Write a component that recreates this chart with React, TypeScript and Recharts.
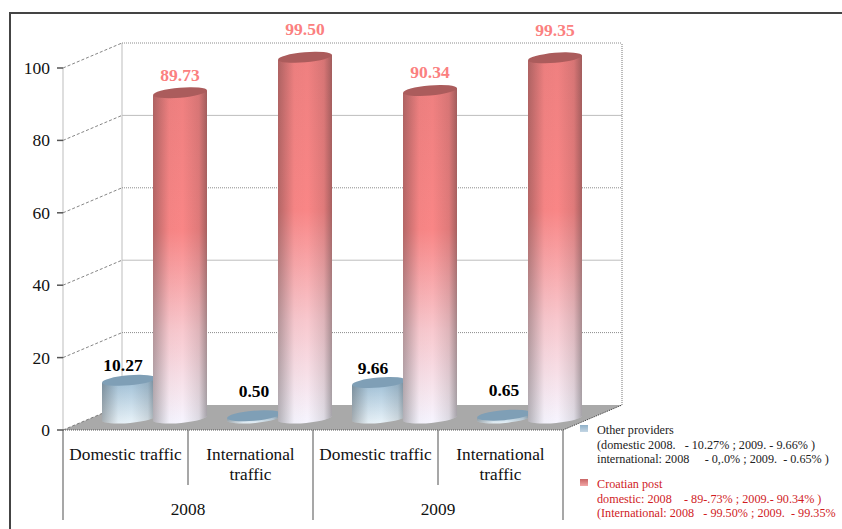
import { BarChart, Bar, XAxis, YAxis, Legend, LabelList } from 'recharts';

const categories = ['Domestic traffic', 'International traffic', 'Domestic traffic', 'International traffic'];
const years = ['2008', '2008', '2009', '2009'];
const otherProviders = [10.27, 0.5, 9.66, 0.65];
const croatianPost = [89.73, 99.5, 90.34, 99.35];
const yTicks = [0, 20, 40, 60, 80, 100];

const otherLegend = [
  'Other providers',
  '(domestic 2008.   - 10.27% ; 2009. - 9.66% )',
  'international: 2008     - 0,.0% ; 2009.  - 0.65% )',
];
const postLegend = [
  'Croatian post',
  'domestic: 2008    - 89-.73% ; 2009.- 90.34% )',
  '(International: 2008   - 99.50% ; 2009.  - 99.35%',
];

const data = categories.map((category, i) => ({
  key: i,
  category,
  year: years[i],
  other: otherProviders[i],
  post: croatianPost[i],
}));

const FONT = '"Liberation Serif", serif';
// how far the back wall sits behind the front of the plot
const DEPTH_X = 59;
const DEPTH_Y = 25;
// bars stand in the middle of the floor
const BAR_DX = 29;
const BAR_DY = 12.5;
const PLOT_W = 500;
const PLOT_H = 362;

function Cylinder(props: any) {
  const { x, y, width, height, body, top } = props;
  const left = x + BAR_DX;
  const right = left + width;
  const yt = y - BAR_DY;
  const yb = y + height - 12;
  const cx = left + width / 2;
  const tilt = 2.5;
  const rx = width / 2;
  const ry = 5;
  const side = `M${left},${yt + tilt} L${left},${yb + tilt} A${rx},${ry} -5 0 0 ${right},${yb - tilt} L${right},${yt - tilt} Z`;
  return (
    <g>
      <path d={side} fill={`url(#${body})`} />
      <path d={side} fill="url(#shade)" />
      <ellipse cx={cx} cy={yt} rx={rx} ry={ry} fill={top} transform={`rotate(-5 ${cx} ${yt})`} />
    </g>
  );
}

function ValueLabel(props: any) {
  const { x, y, width, value, color } = props;
  // labels of the tallest and the flat cylinders sit higher above the top
  const v = Number(value);
  const lift = v > 95 ? 28 : v < 1 ? 25 : v > 50 ? 18 : 15;
  const shift = v > 1 && v < 50 ? -6 : 0;
  return (
    <text
      x={x + BAR_DX + width / 2 + shift}
      y={y - BAR_DY - lift}
      textAnchor="middle"
      dominantBaseline="central"
      fontFamily={FONT}
      fontWeight="bold"
      fontSize={17.5}
      fill={color}
    >
      {v.toFixed(2)}
    </text>
  );
}

// y tick also draws the wall, side line and floor for its level
function WallTick(props: any) {
  const { x, y, payload } = props;
  const x0 = x;
  const back = y - DEPTH_Y;
  const isFloor = payload.value === 0;
  const isDotted = payload.value % 40 !== 0;
  return (
    <g>
      {isFloor && (
        <>
          <polygon
            points={`${x0},${y} ${x0 + DEPTH_X},${back} ${x0 + PLOT_W + DEPTH_X},${back} ${x0 + PLOT_W},${y}`}
            fill="#a9a9a9"
          />
          <line x1={x0 + DEPTH_X} y1={back} x2={x0 + DEPTH_X} y2={back - PLOT_H} stroke="#bdbdbd" />
          <line
            x1={x0 + PLOT_W + DEPTH_X}
            y1={back}
            x2={x0 + PLOT_W + DEPTH_X}
            y2={back - PLOT_H}
            stroke="#777"
            strokeDasharray="1 1"
          />
          <line x1={x0} y1={y} x2={x0} y2={y - PLOT_H} stroke="#bdbdbd" />
          <line x1={x0} y1={y} x2={x0 + PLOT_W} y2={y} stroke="#555" strokeDasharray="1 1" />
          <line x1={x0 + PLOT_W} y1={y} x2={x0 + PLOT_W + DEPTH_X} y2={back} stroke="#333" strokeDasharray="1 1" />
        </>
      )}
      {!isFloor && (
        <line
          x1={x0 + DEPTH_X}
          y1={back}
          x2={x0 + DEPTH_X + PLOT_W}
          y2={back}
          stroke={isDotted ? '#8c8c8c' : '#bdbdbd'}
          strokeDasharray={isDotted ? '1 1' : undefined}
        />
      )}
      <line x1={x0} y1={y} x2={x0 + DEPTH_X} y2={back} stroke="#666" strokeDasharray="3 2" strokeWidth={0.8} />
      <line x1={x0 - 6} y1={y} x2={x0} y2={y} stroke="#555" strokeWidth={1.5} />
      <text
        x={x0 - 13}
        y={y}
        textAnchor="end"
        dominantBaseline="central"
        fontFamily={FONT}
        fontSize={17.5}
        fill="#111"
      >
        {payload.value}
      </text>
    </g>
  );
}

// two level category axis: traffic type on top, year below
function CategoryTick(props: any) {
  const { x, y, payload, index } = props;
  const half = PLOT_W / categories.length / 2;
  const label = categories[payload.value];
  const words = label === 'International traffic' ? ['International', 'traffic'] : [label];
  return (
    <g fontFamily={FONT} fill="#111" textAnchor="middle">
      <line
        x1={x - half}
        y1={y}
        x2={x - half}
        y2={y + (index % 2 === 0 ? 90 : 55)}
        stroke="#8a8a8a"
        strokeWidth={1.5}
      />
      {index === categories.length - 1 && (
        <line x1={x + half} y1={y} x2={x + half} y2={y + 90} stroke="#8a8a8a" strokeWidth={1.5} />
      )}
      {words.map((word: string, i: number) => (
        <text key={word} x={x} y={y + 30 + i * 19.5} fontSize={17.3}>
          {word}
        </text>
      ))}
      {index % 2 === 0 && (
        <text x={x + half} y={y + 85} fontSize={17.3}>
          {years[index]}
        </text>
      )}
    </g>
  );
}

function LegendBlock({ lines, color, swatch, top }: any) {
  return (
    <div style={{ position: 'absolute', left: 0, top, whiteSpace: 'pre', color, fontFamily: FONT, fontSize: 12.2, lineHeight: '14.5px', textAlign: 'left' }}>
      <span style={{ position: 'absolute', left: 0, top: 2, width: 8, height: 7, background: swatch }} />
      {lines.map((line: string) => (
        <div key={line} style={{ marginLeft: 17 }}>
          {line}
        </div>
      ))}
    </div>
  );
}

function ChartLegend() {
  return (
    <div style={{ position: 'relative', width: 262, height: 100 }}>
      <LegendBlock lines={otherLegend} color="#222" swatch="linear-gradient(#8fb0c8,#c4d6e4)" top={0} />
      <LegendBlock lines={postLegend} color="#d01c1f" swatch="linear-gradient(#c96464,#f2a8a8)" top={54} />
    </div>
  );
}

export default function App() {
  return (
    <div style={{ position: 'absolute', left: 0, top: 0, width: 842, height: 529, overflow: 'hidden', background: '#fff' }}>
      <div style={{ position: 'absolute', left: 9, top: 12, right: -4, bottom: -4, borderLeft: '2px solid #444', borderTop: '2px solid #444' }} />
      {/* back layer: walls, floor, axes. bars go in a second chart so they sit on top */}
      <BarChart
        width={842}
        height={529}
        data={data}
        margin={{ top: 68, right: 279, bottom: 0, left: 0 }}
        style={{ position: 'absolute', left: 0, top: 0 }}
      >
        <XAxis dataKey="key" axisLine={false} tickLine={false} interval={0} tick={<CategoryTick />} height={99} tickMargin={0} tickSize={0} />
        <YAxis domain={[0, 100]} ticks={yTicks} width={63} axisLine={false} tickLine={false} tick={<WallTick />} interval={0} tickMargin={0} tickSize={0} />
        <Bar dataKey="post" isAnimationActive={false} fill="none" />
      </BarChart>
      <BarChart
        width={842}
        height={529}
        data={data}
        margin={{ top: 68, right: 279, bottom: 99, left: 63 }}
        barCategoryGap={10}
        barGap={-3}
        style={{ position: 'absolute', left: 0, top: 0 }}
      >
        <defs>
          <linearGradient id="redBody" x1="0" y1="0" x2="0" y2="1">
            <stop offset="0" stopColor="#ef8080" />
            <stop offset="0.42" stopColor="#f98686" />
            <stop offset="0.72" stopColor="#f8c8ce" />
            <stop offset="1" stopColor="#f6f5ff" />
          </linearGradient>
          <linearGradient id="blueBody" x1="0" y1="0" x2="0" y2="1">
            <stop offset="0" stopColor="#9cbdd4" />
            <stop offset="1" stopColor="#e9f3f9" />
          </linearGradient>
          <linearGradient id="shade" x1="0" y1="0" x2="1" y2="0">
            <stop offset="0" stopColor="#222" stopOpacity="0.32" />
            <stop offset="0.3" stopColor="#222" stopOpacity="0.02" />
            <stop offset="0.55" stopColor="#222" stopOpacity="0" />
            <stop offset="0.85" stopColor="#222" stopOpacity="0.12" />
            <stop offset="1" stopColor="#222" stopOpacity="0.38" />
          </linearGradient>
        </defs>
        <XAxis dataKey="key" hide />
        <YAxis domain={[0, 100]} hide />
        <Legend
          content={<ChartLegend />}
          layout="vertical"
          align="center"
          verticalAlign="middle"
          wrapperStyle={{ position: 'absolute', left: 580, top: 423, width: 262, bottom: 'auto', right: 'auto' }}
        />
        <Bar dataKey="other" isAnimationActive={false} shape={<Cylinder body="blueBody" top="#7f9fb6" />}>
          <LabelList dataKey="other" content={<ValueLabel color="#000" />} />
        </Bar>
        <Bar dataKey="post" isAnimationActive={false} shape={<Cylinder body="redBody" top="#ab5c5c" />}>
          <LabelList dataKey="post" content={<ValueLabel color="#fb8080" />} />
        </Bar>
      </BarChart>
    </div>
  );
}
